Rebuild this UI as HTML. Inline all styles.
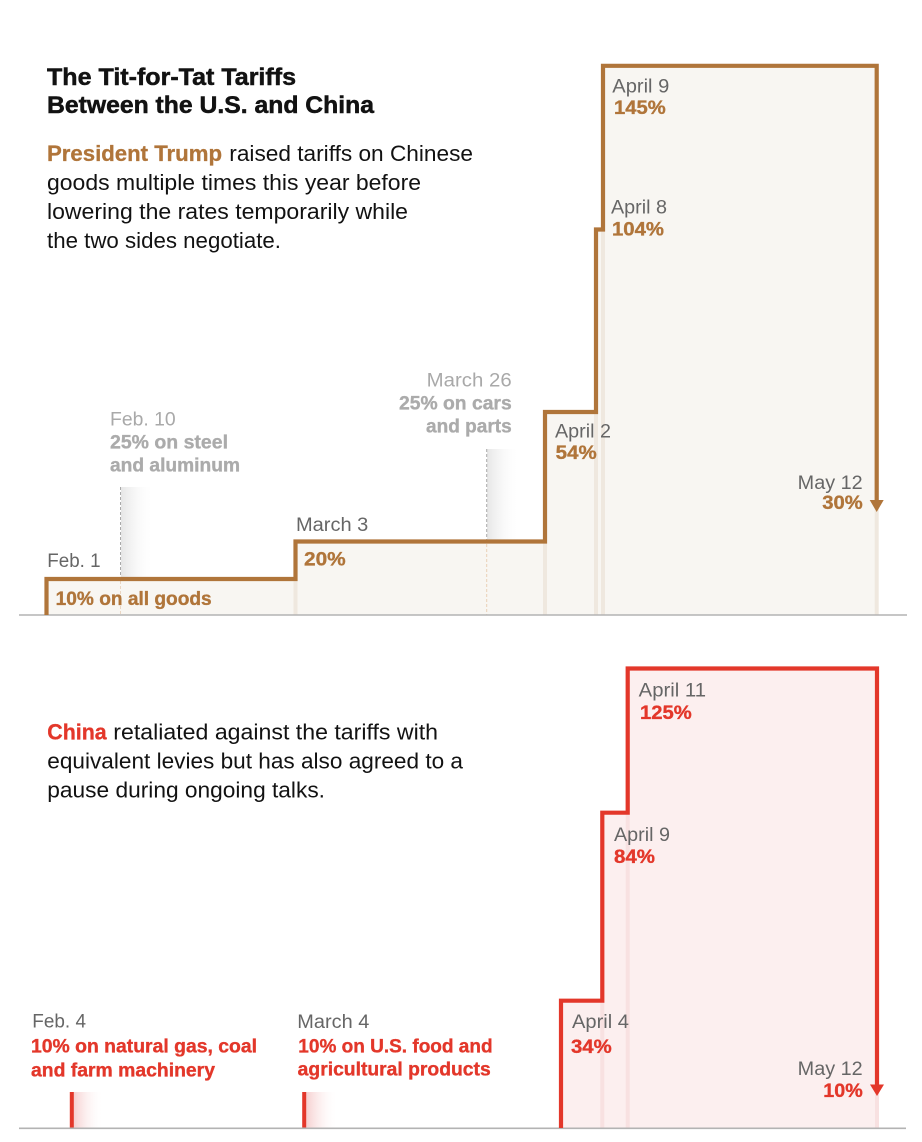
<!DOCTYPE html>
<html>
<head>
<meta charset="utf-8">
<style>
html,body{margin:0;padding:0;background:#fff;}
svg{display:block;}
text{font-family:"Liberation Sans",Arial,sans-serif;}
.t{font-weight:bold;font-size:24px;fill:#121212;stroke:#121212;stroke-width:0.5px;}
.b{font-size:22.5px;fill:#121212;}
.bb{font-size:22.5px;font-weight:bold;}
.d{font-size:19px;fill:#666;}
.v{font-size:19px;font-weight:bold;stroke-width:0.35px;}
.br{fill:#b0753a;stroke:#b0753a;}
.rd{fill:#e3372a;stroke:#e3372a;}
.gr{fill:#ababab;stroke:#ababab;}
</style>
</head>
<body>
<svg width="922" height="1142" viewBox="0 0 922 1142" xmlns="http://www.w3.org/2000/svg">
<defs>
<linearGradient id="gg" x1="0" x2="1" y1="0" y2="0">
<stop offset="0" stop-color="#e6e6e6" stop-opacity="1"/>
<stop offset="1" stop-color="#ffffff" stop-opacity="0"/>
</linearGradient>
<linearGradient id="rg" x1="0" x2="1" y1="0" y2="0">
<stop offset="0" stop-color="#f6cfcf" stop-opacity="1"/>
<stop offset="1" stop-color="#ffffff" stop-opacity="0"/>
</linearGradient>
</defs>
<rect width="922" height="1142" fill="#fff"/>

<!-- ===== TOP CHART ===== -->
<polygon points="46.5,615 46.5,579 295.5,579 295.5,541.5 545,541.5 545,412 596,412 596,229.5 603,229.5 603,65.8 876.7,65.8 876.7,615" fill="#f8f6f2"/>
<g stroke="#efe8df" stroke-width="4">
<line x1="295.5" y1="541" x2="295.5" y2="615"/>
<line x1="545" y1="412" x2="545" y2="615"/>
<line x1="596" y1="229" x2="596" y2="615"/>
<line x1="603" y1="66" x2="603" y2="615"/>
<line x1="876.7" y1="505" x2="876.7" y2="615"/>
</g>
<rect x="121" y="487" width="33" height="91" fill="url(#gg)"/>
<line x1="120.5" y1="487" x2="120.5" y2="578" stroke="#a9a9a9" stroke-width="1" stroke-dasharray="3,2"/>
<line x1="120.5" y1="581" x2="120.5" y2="615" stroke="#ead6c2" stroke-width="1" stroke-dasharray="3,2"/>
<rect x="487" y="449" width="33" height="91" fill="url(#gg)"/>
<line x1="486.7" y1="449" x2="486.7" y2="540" stroke="#a9a9a9" stroke-width="1" stroke-dasharray="3,2"/>
<line x1="486.7" y1="544" x2="486.7" y2="615" stroke="#ead0b6" stroke-width="1" stroke-dasharray="3,2"/>
<line x1="19" y1="615" x2="907" y2="615" stroke="#b3b3b3" stroke-width="1.6"/>
<path d="M46.5,615 V579 H295.5 V541.5 H545 V412 H596 V229.5 H603 V65.8 H876.7 V502" fill="none" stroke="#b0753a" stroke-width="4.2"/>
<polygon points="869.7,500 883.7,500 876.7,512" fill="#b0753a"/>

<!-- ===== BOTTOM CHART ===== -->
<polygon points="561,1128 561,1000.7 602.3,1000.7 602.3,812.7 627.7,812.7 627.7,668.5 877,668.5 877,1128" fill="#fcefef"/>
<g stroke="#f8e1e1" stroke-width="4">
<line x1="602.3" y1="1001" x2="602.3" y2="1128"/>
<line x1="627.7" y1="813" x2="627.7" y2="1128"/>
<line x1="877" y1="1092" x2="877" y2="1128"/>
</g>
<rect x="73.5" y="1092" width="30" height="36" fill="url(#rg)"/>
<rect x="69.8" y="1092" width="4" height="36" fill="#e3372a"/>
<rect x="306" y="1092" width="32" height="36" fill="url(#rg)"/>
<rect x="302.2" y="1092" width="4" height="36" fill="#e3372a"/>
<line x1="19" y1="1128.3" x2="906" y2="1128.3" stroke="#b3b3b3" stroke-width="1.6"/>
<path d="M561,1128 V1000.7 H602.3 V812.7 H627.7 V668.5 H877 V1086" fill="none" stroke="#e3372a" stroke-width="4.2"/>
<polygon points="870,1084.5 884,1084.5 877,1096" fill="#e3372a"/>

<!-- ===== TITLE & INTRO ===== -->
<text class="t" x="47" y="85" textLength="249" lengthAdjust="spacingAndGlyphs">The Tit-for-Tat Tariffs</text>
<text class="t" x="47" y="113" textLength="327" lengthAdjust="spacingAndGlyphs">Between the U.S. and China</text>

<text class="bb br" x="47" y="161" textLength="175" lengthAdjust="spacingAndGlyphs" style="stroke-width:0.3px">President Trump</text>
<text class="b" x="229.3" y="161" textLength="243.7" lengthAdjust="spacingAndGlyphs">raised tariffs on Chinese</text>
<text class="b" x="47" y="190" textLength="374" lengthAdjust="spacingAndGlyphs">goods multiple times this year before</text>
<text class="b" x="47" y="219" textLength="361" lengthAdjust="spacingAndGlyphs">lowering the rates temporarily while</text>
<text class="b" x="47" y="248" textLength="234" lengthAdjust="spacingAndGlyphs">the two sides negotiate.</text>

<text class="bb rd" x="47.3" y="739.3" textLength="59.4" lengthAdjust="spacingAndGlyphs" style="stroke-width:0.3px">China</text>
<text class="b" x="113.3" y="739.3" textLength="324.7" lengthAdjust="spacingAndGlyphs">retaliated against the tariffs with</text>
<text class="b" x="47.3" y="768.3" textLength="415.7" lengthAdjust="spacingAndGlyphs">equivalent levies but has also agreed to a</text>
<text class="b" x="47.3" y="797.3" textLength="277.7" lengthAdjust="spacingAndGlyphs">pause during ongoing talks.</text>

<!-- ===== TOP LABELS ===== -->
<text class="d" x="47.3" y="567" textLength="53.3" lengthAdjust="spacingAndGlyphs">Feb. 1</text>
<text class="v br" x="55.7" y="605" textLength="156" lengthAdjust="spacingAndGlyphs">10% on all goods</text>

<text class="d" x="110" y="425.7" textLength="65.7" lengthAdjust="spacingAndGlyphs" style="fill:#a9a9a9">Feb. 10</text>
<text class="v gr" x="110" y="448.3" textLength="118" lengthAdjust="spacingAndGlyphs">25% on steel</text>
<text class="v gr" x="110" y="471.7" textLength="130" lengthAdjust="spacingAndGlyphs">and aluminum</text>

<text class="d" x="296" y="531" textLength="72.3" lengthAdjust="spacingAndGlyphs">March 3</text>
<text class="v br" x="304" y="565.7" textLength="41.7" lengthAdjust="spacingAndGlyphs">20%</text>

<text class="d" x="426.7" y="386.7" textLength="85" lengthAdjust="spacingAndGlyphs" style="fill:#a9a9a9">March 26</text>
<text class="v gr" x="399" y="409.3" textLength="112.7" lengthAdjust="spacingAndGlyphs">25% on cars</text>
<text class="v gr" x="426" y="432.7" textLength="85.7" lengthAdjust="spacingAndGlyphs">and parts</text>

<text class="d" x="555" y="437.3" textLength="56" lengthAdjust="spacingAndGlyphs">April 2</text>
<text class="v br" x="555.7" y="459" textLength="41" lengthAdjust="spacingAndGlyphs">54%</text>

<text class="d" x="611" y="213.3" textLength="56" lengthAdjust="spacingAndGlyphs">April 8</text>
<text class="v br" x="612" y="235.7" textLength="52" lengthAdjust="spacingAndGlyphs">104%</text>

<text class="d" x="612.3" y="92.7" textLength="57" lengthAdjust="spacingAndGlyphs">April 9</text>
<text class="v br" x="614" y="114" textLength="51.7" lengthAdjust="spacingAndGlyphs">145%</text>

<text class="d" x="797.7" y="489" textLength="65" lengthAdjust="spacingAndGlyphs">May 12</text>
<text class="v br" x="822.3" y="509" textLength="40.4" lengthAdjust="spacingAndGlyphs">30%</text>

<!-- ===== BOTTOM LABELS ===== -->
<text class="d" x="638.7" y="696.7" textLength="67.3" lengthAdjust="spacingAndGlyphs">April 11</text>
<text class="v rd" x="640" y="719" textLength="51.7" lengthAdjust="spacingAndGlyphs">125%</text>

<text class="d" x="614" y="841" textLength="56" lengthAdjust="spacingAndGlyphs">April 9</text>
<text class="v rd" x="614" y="863" textLength="41" lengthAdjust="spacingAndGlyphs">84%</text>

<text class="d" x="572" y="1028" textLength="57" lengthAdjust="spacingAndGlyphs">April 4</text>
<text class="v rd" x="571" y="1053" textLength="40.7" lengthAdjust="spacingAndGlyphs">34%</text>

<text class="d" x="797.7" y="1075" textLength="65" lengthAdjust="spacingAndGlyphs">May 12</text>
<text class="v rd" x="823.3" y="1097" textLength="39.4" lengthAdjust="spacingAndGlyphs">10%</text>

<text class="d" x="32.3" y="1027.3" textLength="53.7" lengthAdjust="spacingAndGlyphs">Feb. 4</text>
<text class="v rd" x="31" y="1052.7" textLength="226" lengthAdjust="spacingAndGlyphs">10% on natural gas, coal</text>
<text class="v rd" x="31" y="1076.3" textLength="184" lengthAdjust="spacingAndGlyphs">and farm machinery</text>

<text class="d" x="297.3" y="1028" textLength="72" lengthAdjust="spacingAndGlyphs">March 4</text>
<text class="v rd" x="298.3" y="1052.3" textLength="194.3" lengthAdjust="spacingAndGlyphs">10% on U.S. food and</text>
<text class="v rd" x="297.7" y="1075.5" textLength="193" lengthAdjust="spacingAndGlyphs">agricultural products</text>
</svg>
</body>
</html>
